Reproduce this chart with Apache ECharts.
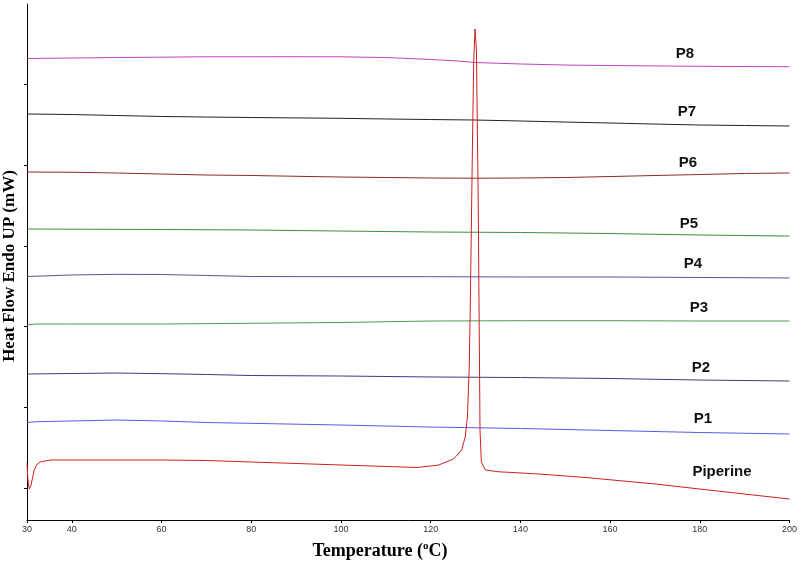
<!DOCTYPE html>
<html><head><meta charset="utf-8">
<script src="https://cdn.jsdelivr.net/npm/echarts@6/dist/echarts.min.js"></script>
<style>html,body{margin:0;padding:0;background:#fff}#c{width:800px;height:563px}</style>
</head><body><div id="c"></div>
<script>
// Tick labels
const temperatureTicks = [30, 40, 60, 80, 100, 120, 140, 160, 180, 200];
const heatFlowTicks = [0.4, 1.4, 2.4, 3.4, 4.4, 5.4];
const seriesNames = ['P8', 'P7', 'P6', 'P5', 'P4', 'P3', 'P2', 'P1', 'Piperine'];

// Series data (temperature °C, heat flow, arbitrary offset mW)
const p8T = [30, 50, 70, 90, 100, 110, 120, 126, 130, 140, 150, 160, 180, 200];
const p8V = [5.724, 5.736, 5.745, 5.746, 5.745, 5.736, 5.712, 5.693, 5.674, 5.656, 5.643, 5.637, 5.627, 5.622];

const p7T = [30, 40, 50, 60, 70, 80, 100, 110, 120, 130, 140, 150, 160, 170, 180, 190, 200];
const p7V = [5.036, 5.029, 5.017, 5.005, 4.998, 4.992, 4.982, 4.974, 4.967, 4.961, 4.949, 4.936, 4.924, 4.911, 4.899, 4.893, 4.887];

const p6T = [30, 40, 50, 60, 70, 80, 90, 100, 110, 120, 130, 140, 150, 160, 170, 180, 190, 200];
const p6V = [4.316, 4.313, 4.304, 4.291, 4.279, 4.273, 4.263, 4.254, 4.248, 4.242, 4.239, 4.242, 4.248, 4.260, 4.273, 4.285, 4.298, 4.304];

const p5T = [30, 60, 80, 100, 120, 140, 160, 180, 200];
const p5V = [3.609, 3.603, 3.597, 3.584, 3.572, 3.566, 3.553, 3.535, 3.522];

const p4T = [30, 40, 50, 60, 70, 80, 100, 120, 140, 160, 180, 200];
const p4V = [3.020, 3.039, 3.047, 3.045, 3.033, 3.020, 3.018, 3.018, 3.014, 3.014, 3.008, 3.002];

const p3T = [30, 32, 40, 60, 80, 100, 120, 140, 160, 180, 200];
const p3V = [2.419, 2.431, 2.431, 2.431, 2.440, 2.450, 2.468, 2.472, 2.472, 2.468, 2.468];

const p2T = [30, 40, 50, 60, 70, 80, 100, 120, 140, 160, 180, 200];
const p2V = [1.811, 1.817, 1.823, 1.815, 1.805, 1.792, 1.786, 1.774, 1.767, 1.755, 1.736, 1.724];

const p1T = [30, 32, 40, 50, 60, 70, 80, 100, 120, 140, 160, 180, 200];
const p1V = [1.209, 1.219, 1.228, 1.240, 1.228, 1.209, 1.199, 1.178, 1.153, 1.135, 1.110, 1.085, 1.067];

const piperineT = [30, 30.2, 30.5, 30.9, 31.6, 32.3, 33.1, 35.3, 60, 70, 80, 90, 100, 110, 117, 121.8, 125.1, 126.9, 127.7, 128.2, 128.6, 128.85, 129.3, 129.6, 129.9, 130.2, 130.6, 131.0, 131.3, 132.2, 135, 144, 155, 170, 180, 190, 200];
const piperineV = [0.707, 0.496, 0.384, 0.434, 0.620, 0.695, 0.723, 0.744, 0.744, 0.738, 0.719, 0.701, 0.682, 0.664, 0.651, 0.682, 0.757, 0.868, 1.029, 1.278, 1.898, 2.729, 4.589, 5.705, 6.090, 5.829, 3.969, 1.116, 0.719, 0.620, 0.599, 0.571, 0.525, 0.447, 0.384, 0.322, 0.260];

const allT = [p8T, p7T, p6T, p5T, p4T, p3T, p2T, p1T, piperineT];
const allV = [p8V, p7V, p6V, p5V, p4V, p3V, p2V, p1V, piperineV];
const colors = ['#c040c0', '#222222', '#8b2a2a', '#3d8f3d', '#5555a8', '#4f9a4f', '#3a3a88', '#5a5ae0', '#cc2020'];

// label placements (pixels)
const labelPos = [[685, 54], [687, 112], [688, 163], [689, 224], [693, 264], [699, 308], [701, 368], [703, 419], [722, 472]];

const chart = echarts.init(document.getElementById('c'), null, {renderer: 'canvas'});

const series = seriesNames.map((n, i) => ({
  name: n,
  type: 'line',
  data: allT[i].map((t, j) => [t, allV[i][j]]),
  showSymbol: false,
  symbol: 'none',
  lineStyle: {color: colors[i], width: 1},
  itemStyle: {color: colors[i]},
  z: i === 8 ? 3 : 2,
  animation: false
}));

const graphics = seriesNames.map((n, i) => ({
  type: 'text',
  x: labelPos[i][0],
  y: labelPos[i][1],
  style: {
    text: n,
    font: 'bold 15px "Liberation Sans", Arial, sans-serif',
    fill: '#111',
    textAlign: 'center',
    textVerticalAlign: 'middle'
  }
}));

graphics.push({
  type: 'text',
  x: 10,
  y: 266,
  rotation: Math.PI / 2,
  style: {
    text: 'Heat Flow Endo UP (mW)',
    font: 'bold 17px "Liberation Serif", "Times New Roman", serif',
    fill: '#000',
    textAlign: 'center',
    textVerticalAlign: 'middle'
  }
});

graphics.push({
  type: 'text',
  x: 380,
  y: 551,
  style: {
    text: '{t|Temperature (}{s|o}{t|C)}',
    textAlign: 'center',
    textVerticalAlign: 'middle',
    rich: {
      t: {font: 'bold 18px "Liberation Serif", "Times New Roman", serif', fill: '#000', lineHeight: 20},
      s: {font: 'bold 11px "Liberation Serif", "Times New Roman", serif', fill: '#000', verticalAlign: 'top', lineHeight: 20, padding: [0, 0, 8, 0]}
    }
  }
});

chart.setOption({
  animation: false,
  backgroundColor: '#fff',
  grid: {left: 27, right: 7, top: 4, bottom: 43, containLabel: false},
  xAxis: {
    type: 'value',
    min: 30,
    max: 200,
    axisLine: {show: true, onZero: false, lineStyle: {color: '#000', width: 1}},
    axisTick: {show: true, customValues: temperatureTicks, length: 3, lineStyle: {color: '#000'}},
    axisLabel: {show: true, customValues: temperatureTicks, fontSize: 9, color: '#333', margin: 5, fontFamily: '"Liberation Sans", Arial, sans-serif'},
    splitLine: {show: false}
  },
  yAxis: {
    type: 'value',
    min: 0,
    max: 6.4,
    axisLine: {show: true, onZero: false, lineStyle: {color: '#000', width: 1}},
    axisTick: {show: true, customValues: heatFlowTicks, length: 3, lineStyle: {color: '#000'}},
    axisLabel: {show: false},
    splitLine: {show: false}
  },
  series: series,
  graphic: graphics
});
</script>
</body></html>
